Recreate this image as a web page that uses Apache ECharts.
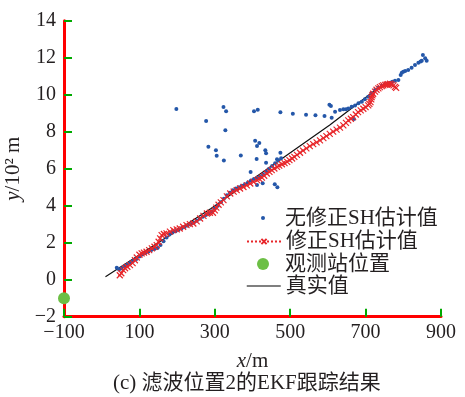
<!DOCTYPE html>
<html>
<head>
<meta charset="utf-8">
<script src="https://cdn.jsdelivr.net/npm/echarts@6/dist/echarts.min.js"></script>
<style>
  html, body { margin: 0; padding: 0; background: #fff; }
  #chart { width: 465px; height: 397px; }
</style>
</head>
<body>
<div id="chart"></div>
<script>
// Axis ranges and tick spacing
const xTicks = { min: -100, max: 900, step: 200 };
const yTicks = { min: -2, max: 14, step: 2 };

// Series names
const names = ['无修正SH估计值', '修正SH估计值', '观测站位置', '真实值'];

// Uncorrected SH estimates: track along the path [x (m), y (10^2 m)]
const blueTrack = [
  [40,0.65],[46,0.55],[52,0.62],[60,0.72],[68,0.82],[76,0.92],[84,1.02],[92,1.12],
  [100,1.25],[108,1.36],[116,1.45],[124,1.52],[132,1.6],[140,1.66],[148,1.72],[156,1.88],
  [164,2.08],[172,2.28],[180,2.45],[188,2.55],[196,2.62],[204,2.7],[212,2.78],[220,2.85],
  [228,2.93],[236,3.0],[244,3.08],[252,3.18],[260,3.3],[268,3.4],[276,3.5],[284,3.58],
  [292,3.7],[300,3.85],[308,4.0],[316,4.18],[324,4.38],[332,4.56],[340,4.7],[348,4.84],
  [356,4.93],[364,5.0],[372,5.08],[380,5.16],[388,5.26],[396,5.36],[404,5.45],[412,5.5],
  [420,5.56],[428,5.68],[436,5.84],[444,6.0],[452,6.15],[460,6.3],[468,6.45],[476,6.56]
];

// Uncorrected SH estimates: scattered off the path
const blueStray = [
  [198,9.23],[323,9.34],[330,9.10],[277,8.58],[328,8.08],[404,9.10],[414,9.19],
  [283,7.19],[303,7.0],[305,6.70],[324,6.45],[369,6.72],[407,7.51],[418,7.39],[412,7.23],
  [434,7.0],[436,6.83],[411,6.52],[436,6.32],[474,6.86],[465,6.51],[395,5.82],
  [412,5.12],[427,5.21],[459,5.16],[466,5.0]
];

// Uncorrected SH estimates: upper branch
const blueUpper = [
  [474,9.05],[507,8.97],[542,8.92],[567,8.89],[591,8.85],[604,9.46],[608,9.39],[610,8.76],
  [619,9.08],[632,9.17],[641,9.21],[648,9.22],[654,9.26],[663,9.35],[669,8.69],[672,9.41],
  [681,9.54],[690,9.62],[698,9.75],[707,9.89],[716,10.08],[725,10.25],[734,10.38],[743,10.49],
  [751,10.56],[758,10.6],[765,10.65],[771,10.7],[778,10.76],[787,10.79],[793,11.06],[796,11.19],
  [800,11.24],[805,11.28],[813,11.34],[822,11.46],[831,11.6],[840,11.73],[846,11.8],[849,11.84],
  [852,12.15],[858,11.97],[862,11.84]
];

// Corrected SH estimates
const redTrack = [
  [48,0.24],[52,0.35],[57,0.52],[62,0.62],[68,0.7],[75,0.79],[82,0.9],[88,1.05],[93,1.2],
  [100,1.35],[106,1.42],[112,1.46],[119,1.51],[126,1.6],[133,1.69],[140,1.78],[146,1.87],
  [151,2.05],[155,2.23],[159,2.41],[165,2.47],[172,2.5],[181,2.6],[190,2.68],[199,2.72],
  [207,2.77],[216,2.86],[225,2.95],[234,3.0],[243,3.04],[252,3.15],[261,3.31],[270,3.45],
  [279,3.58],[287,3.62],[295,3.62],[300,3.75],[304,3.9],[310,4.05],[316,4.18],[323,4.3],
  [332,4.5],[341,4.66],[350,4.76],[358,4.84],[367,4.93],[376,5.01],[385,5.1],[394,5.2],
  [403,5.29],[412,5.38],[418,5.45],[425,5.52],[431,5.62],[438,5.74],[445,5.83],[451,5.92],
  [458,6.01],[465,6.1],[471,6.17],[478,6.24],[485,6.3],[492,6.37],[498,6.46],[505,6.55],
  [511,6.64],[518,6.75],[526,6.86],[534,6.98],[543,7.1],[552,7.22],[561,7.33],[570,7.42],
  [579,7.53],[588,7.65],[596,7.76],[605,7.88],[614,8.0],[623,8.11],[632,8.22],[641,8.34],
  [648,8.48],[654,8.61],[661,8.7],[667,8.79],[674,8.93],[680,9.06],[687,9.15],[694,9.24],
  [700,9.33],[707,9.42],[710,9.5],[713,9.6],[715,9.75],[716,9.87],[718,9.96],[720,10.05],
  [725,10.17],[729,10.27],[734,10.34],[738,10.41],[743,10.46],[747,10.5],[752,10.53],
  [756,10.55],[760,10.57],[765,10.59],[769,10.55],[774,10.5],[778,10.42],[781,10.37]
];

// Observation station
const station = [[-100, -1]];

// True trajectory
const truth = [[10,0.16],[290,3.85],[605,8.36],[734,10.38]];

const serif = "'Liberation Serif', 'Times New Roman', 'Noto Sans CJK SC', serif";
const textColor = '#231f20';
const axisColor = '#f00';
const crossPath = 'path://M0,0L10,10M10,0L0,10';

function legendRow(item, top, itemHeight) {
  return {
    data: [item],
    orient: 'vertical',
    left: 246,
    top: top,
    padding: 0,
    itemWidth: 34,
    itemHeight: itemHeight,
    selectedMode: false,
    textStyle: { fontFamily: serif, fontSize: 21, color: textColor, lineHeight: 22 }
  };
}

const nameStyle = {
  fontFamily: serif, fontSize: 21, color: textColor,
  rich: { i: { fontFamily: serif, fontSize: 21, fontStyle: 'italic', color: textColor } }
};

const signed = v => (v < 0 ? '\u2212' + Math.abs(v) : String(v));

const chart = echarts.init(document.getElementById('chart'));

chart.setOption({
  animation: false,
  backgroundColor: '#fff',
  title: {
    text: '(c) 滤波位置2的EKF跟踪结果',
    left: 113,
    top: 373,
    padding: 0,
    textStyle: { fontFamily: serif, fontSize: 21, fontWeight: 'normal', color: textColor }
  },
  grid: { left: 64, right: 24, top: 20.7, bottom: 80.3, containLabel: false, outerBoundsMode: 'none' },
  legend: [
    legendRow(names[0], 207, 5),
    legendRow(names[1], 230.5, 6.5),
    legendRow(names[2], 253, 15),
    legendRow({ name: names[3], itemStyle: { opacity: 0 }, lineStyle: { color: '#555', width: 1.5 } }, 275, 14)
  ],
  xAxis: {
    type: 'value',
    min: xTicks.min,
    max: xTicks.max,
    interval: xTicks.step,
    name: '{i|x}/m',
    nameLocation: 'middle',
    nameGap: 34,
    nameTextStyle: nameStyle,
    axisLine: { show: true, onZero: false, lineStyle: { color: axisColor, width: 3 } },
    axisTick: { show: true, inside: true, length: 8, lineStyle: { color: '#0a0', width: 2 } },
    axisLabel: { fontFamily: serif, fontSize: 20, color: textColor, margin: 6, formatter: signed },
    splitLine: { show: false }
  },
  yAxis: {
    type: 'value',
    min: yTicks.min,
    max: yTicks.max,
    interval: yTicks.step,
    name: '{i|y}/10\u00b2 m',
    nameLocation: 'middle',
    nameGap: 24,
    nameTextStyle: nameStyle,
    axisLine: { show: true, onZero: false, lineStyle: { color: axisColor, width: 3 } },
    axisTick: { show: true, inside: true, length: 8, lineStyle: { color: '#0a0', width: 2 } },
    axisLabel: { fontFamily: serif, fontSize: 20, color: textColor, margin: 8, formatter: signed },
    splitLine: { show: false }
  },
  series: [
    {
      name: names[0],
      type: 'line',
      data: blueTrack.concat(blueStray, blueUpper),
      symbol: 'circle',
      symbolSize: 4,
      showAllSymbol: true,
      lineStyle: { opacity: 0, width: 0 },
      itemStyle: { color: '#2457a9' }
    },
    {
      name: names[1],
      type: 'line',
      data: redTrack,
      symbol: crossPath,
      symbolSize: 6,
      showAllSymbol: true,
      lineStyle: { color: '#e8262a', width: 1, type: 'dotted' },
      itemStyle: { color: '#e8262a', borderColor: '#e8262a', borderWidth: 1.2 }
    },
    {
      name: names[2],
      type: 'line',
      data: station,
      symbol: 'circle',
      symbolSize: 12,
      showAllSymbol: true,
      clip: false,
      lineStyle: { opacity: 0, width: 0 },
      itemStyle: { color: '#6cbf45' },
      z: 5
    },
    {
      name: names[3],
      type: 'line',
      data: truth,
      symbol: 'none',
      lineStyle: { color: '#111', width: 1.2 },
      itemStyle: { color: '#111' }
    }
  ]
});
</script>
</body>
</html>
